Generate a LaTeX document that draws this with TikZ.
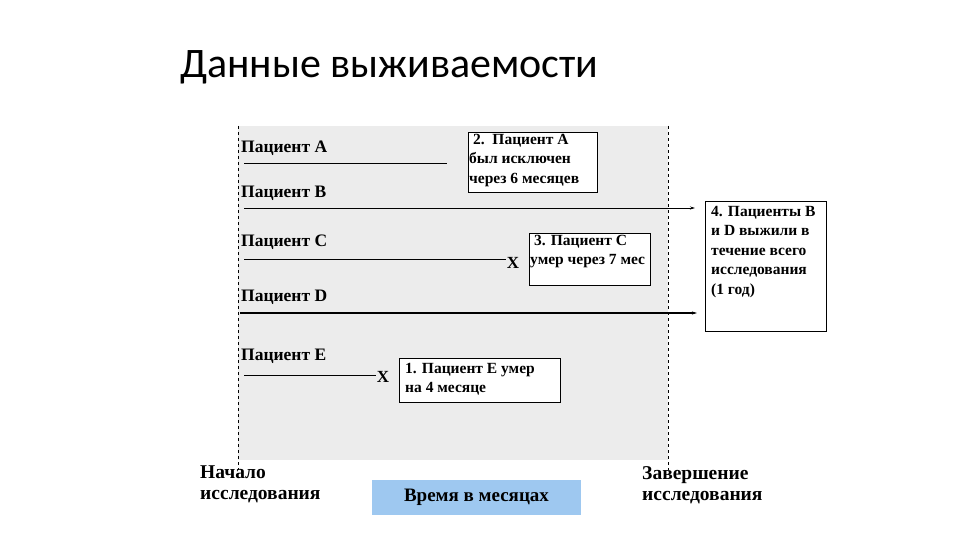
\documentclass[tikz,border=0pt]{standalone}
\usepackage{fontspec}
\setmainfont{Liberation Serif}
\newfontfamily\titlefont{Carlito}
\usetikzlibrary{arrows.meta}
\begin{document}
\begin{tikzpicture}[x=1pt,y=-1pt,
  lbl/.style={font=\bfseries\fontsize{17.5}{20}\selectfont, anchor=west, inner sep=0pt},
  notebox/.style={draw, thick, fill=white},
  note/.style={font=\bfseries\fontsize{15.5}{19.5}\selectfont, align=left, anchor=north west, inner sep=0pt},
  pline/.style={line width=0.8pt},
  arr/.style={-{Stealth[length=5pt,width=3pt]}},
  xmark/.style={font=\bfseries\fontsize{17}{18}\selectfont, inner sep=1pt}]
\useasboundingbox (0,0) rectangle (960,540);
\fill[gray!15] (238,126) rectangle (668,460);
\draw[dashed] (238,126) -- (238,470);
\draw[dashed] (668,126) -- (668,470);
\node[anchor=base west, font=\titlefont\fontsize{42}{46}\selectfont, inner sep=0pt] (title) at (180,78) {Данные выживаемости};
% labels
\node[lbl] (la) at (241,148) {Пациент A};
\node[lbl] (lb) at (241,193) {Пациент B};
\node[lbl] (lc) at (241,242) {Пациент C};
\node[lbl] (ld) at (241,297) {Пациент D};
\node[lbl] (le) at (241,356) {Пациент E};
% lines
\coordinate (a0) at (244,163); \coordinate (a1) at (447,163);
\draw[pline] (a0) -- (a1);
\coordinate (b0) at (244,208); \coordinate (b1) at (695,208);
\draw[pline,arr] (b0) -- (b1);
\coordinate (c0) at (244,259);
\node[xmark] (xc) at (513,263) {X};
\draw[pline] (c0) -- (xc.west |- c0);
\coordinate (d0) at (240,313); \coordinate (d1) at (697,313);
\draw[line width=2pt,arr] (d0) -- (d1);
\coordinate (e0) at (244,375);
\node[xmark] (xe) at (383,377) {X};
\draw[pline] (e0) -- (xe.west |- e0);
% notes
\draw[notebox] (468,132) rectangle (597,192);
\node[note] (n2) at (469,134) {\ 2.\ \ Пациент A\\был исключен\\через 6 месяцев};
\draw[notebox] (529,233) rectangle (650,285);
\node[note] (n3) at (530,235) {\ 3. Пациент C\\умер через 7 мес};
\draw[notebox] (705,201) rectangle (826,331);
\node[note] (n4) at (711,206) {4. Пациенты B\\и D выжили в\\течение всего\\исследования\\(1 год)};
\draw[notebox] (399,358) rectangle (560,402);
\node[note] (n1) at (405,363) {1. Пациент E умер\\на 4 месяце};
% bottom
\node[fill={rgb,255:red,158;green,200;blue,240}, minimum width=209pt, minimum height=35pt, font=\bfseries\fontsize{19}{22}\selectfont] (time) at (476.5,497.5) {Время в месяцах};
\node[anchor=north west, align=left, font=\bfseries\fontsize{19.5}{21}\selectfont, inner sep=0pt] (start) at (200,466) {Начало\\исследования};
\node[anchor=north west, align=left, font=\bfseries\fontsize{19.5}{21}\selectfont, inner sep=0pt] (end) at (642,466) {Завершение\\исследования};
\end{tikzpicture}
\end{document}
